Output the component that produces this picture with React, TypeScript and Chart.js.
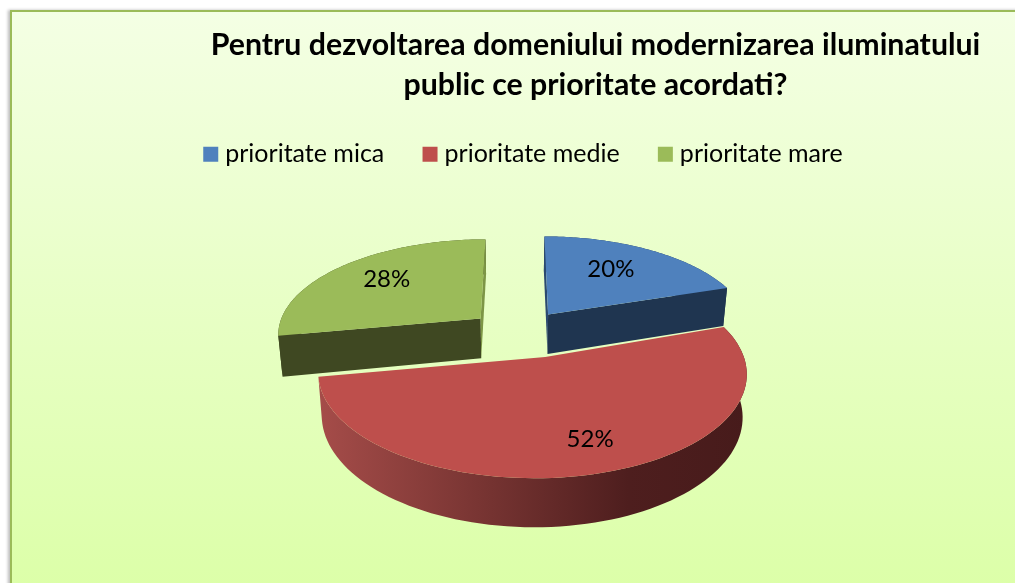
import React, { useEffect, useRef } from "react";
import { Chart, registerables } from "chart.js";

Chart.register(...registerables);

const titleLines = [
  "Pentru dezvoltarea domeniului modernizarea iluminatului",
  "public ce prioritate acordati?",
];
const categories = ["prioritate mica", "prioritate medie", "prioritate mare"];
const shares = [20, 52, 28];
const topColors = ["#4f81bd", "#be4f4c", "#9bbb59"];
const wallColors = ["#1f3550", "#7a3634", "#3f4822"];
const sliverColors = ["#2b4a70", "#7a3634", "#7d9646"];
const labelRadius = [0.65, 0.75, 0.69];
const labelAngleShift = [-3, -4, 2];

const FONT = "Lato, Carlito, sans-serif";

// View of the tilted pie: a projective mapping of the unit disc onto the page
const view = { x0: 519, y0: 333.2, sx: 204, sy: 95, k: 0.15, explode: 0.25, vx: 515, shrink: 0.982 };
const apexNudgeX = [0, 13, 0];

function project(u: number, v: number) {
  const w = 1 / (1 - view.k * v);
  return { x: view.x0 + view.sx * u * w, y: view.y0 + view.sy * v * w };
}
function lower(p: { x: number; y: number }) {
  return { x: view.vx + (p.x - view.vx) * view.shrink, y: p.y + 38 + 0.058 * (p.y - 288) };
}
function trace(ctx: CanvasRenderingContext2D, pts: { x: number; y: number }[]) {
  ctx.beginPath();
  pts.forEach((p, i) => (i ? ctx.lineTo(p.x, p.y) : ctx.moveTo(p.x, p.y)));
  ctx.closePath();
}
function fillPoly(ctx: CanvasRenderingContext2D, pts: { x: number; y: number }[], fill: any) {
  trace(ctx, pts);
  ctx.fillStyle = fill;
  ctx.fill();
}

const pie3d = {
  id: "pie3d",
  afterLayout(chart: any) {
    chart.titleBlock.left += 176;
    chart.legend.left += 18.25;
    chart.legend.right += 18.25;
    chart.legend.top -= 15;
    chart.legend.bottom -= 15;
  },
  beforeDatasetsDraw(chart: any) {
    const ctx: CanvasRenderingContext2D = chart.ctx;
    const arcs = chart.getDatasetMeta(0).data;
    const slices = arcs.map((arc: any, i: number) => {
      const { startAngle, endAngle } = arc.getProps(["startAngle", "endAngle"], true);
      const a0 = startAngle + Math.PI / 2;
      const a1 = endAngle + Math.PI / 2;
      const mid = (a0 + a1) / 2;
      const cu = view.explode * Math.sin(mid);
      const cv = -view.explode * Math.cos(mid);
      const n = 90;
      const rim = [];
      for (let s = 0; s <= n; s++) {
        const a = a0 + ((a1 - a0) * s) / n;
        rim.push(project(cu + Math.sin(a), cv - Math.cos(a)));
      }
      const c = project(cu, cv);
      const apex = { x: c.x + apexNudgeX[i], y: c.y };
      return { i, rim, apex, cu, cv, mid };
    });

    const order = [2, 0, 1];
    order.forEach((i) => {
      const { rim, apex } = slices[i];
      const low = rim.map(lower);
      const first = rim[0];
      const last = rim[rim.length - 1];
      const lowApex = lower(apex);
      let rimFill: any = wallColors[i];
      if (i === 1) {
        const g = ctx.createLinearGradient(320, 0, 748, 0);
        g.addColorStop(0, "#a54c49");
        g.addColorStop(0.4, "#753331");
        g.addColorStop(0.72, "#4e1e1e");
        g.addColorStop(1, "#471b1b");
        rimFill = g;
      }
      fillPoly(ctx, [...rim, ...low.slice().reverse()], rimFill);
      if (i !== 1) {
        fillPoly(ctx, [apex, first, lower(first), lowApex], i === 2 ? wallColors[i] : sliverColors[i]);
        fillPoly(ctx, [apex, last, lower(last), lowApex], i === 2 ? sliverColors[i] : wallColors[i]);
      }
      fillPoly(ctx, [apex, ...rim], topColors[i]);
    });

    ctx.save();
    ctx.fillStyle = "#000";
    ctx.font = `24px ${FONT}`;
    ctx.textAlign = "center";
    ctx.textBaseline = "middle";
    slices.forEach((s: any) => {
      const a = s.mid + (labelAngleShift[s.i] * Math.PI) / 180;
      const r = labelRadius[s.i];
      const p = project(s.cu + r * Math.sin(a), s.cv - r * Math.cos(a));
      ctx.fillText(`${shares[s.i]}%`, p.x, p.y);
    });
    ctx.restore();
    return false;
  },
};

export default function App() {
  const ref = useRef<HTMLCanvasElement>(null);
  useEffect(() => {
    document.body.style.margin = "0";
    document.body.style.overflow = "hidden";
    const baseLabels = (Chart as any).overrides.pie.plugins.legend.labels.generateLabels;
    const chart = new Chart(ref.current!, {
      type: "pie",
      data: {
        labels: categories,
        datasets: [{ data: shares, backgroundColor: topColors, borderWidth: 0 }],
      },
      options: {
        responsive: false,
        animation: false,
        devicePixelRatio: 1,
        layout: { padding: { top: 25 } },
        plugins: {
          tooltip: { enabled: false },
          title: {
            display: true,
            text: titleLines,
            color: "#000",
            font: { family: FONT, size: 30.3, weight: "bold", lineHeight: 1.32 },
            padding: { top: 0, bottom: 8 },
          },
          legend: {
            position: "top",
            labels: {
              color: "#000",
              font: { family: FONT, size: 25 },
              boxWidth: 4,
              boxHeight: 4,
              padding: 43.75,
              generateLabels: (c: any) =>
                baseLabels(c).map((l: any) => ({
                  ...l,
                  strokeStyle: l.fillStyle,
                  lineWidth: 11,
                })),
            },
          },
        },
      } as any,
      plugins: [pie3d as any],
    });
    return () => chart.destroy();
  }, []);
  return (
    <div style={{ position: "relative", width: 1015, height: 583, overflow: "hidden", background: "#fff" }}>
      <div
        style={{
          position: "absolute",
          left: 10,
          top: 10,
          width: 1010,
          height: 580,
          boxSizing: "border-box",
          borderLeft: "2px solid #9bbb59",
          borderTop: "2px solid #9bbb59",
          background: "linear-gradient(180deg, #f4ffe4 0%, #dcffa8 100%)",
          boxShadow: "-2px 0 3px #bbb",
        }}
      />
      <canvas ref={ref} width={1015} height={583} style={{ position: "absolute", left: 0, top: 0, display: "block" }} />
    </div>
  );
}
